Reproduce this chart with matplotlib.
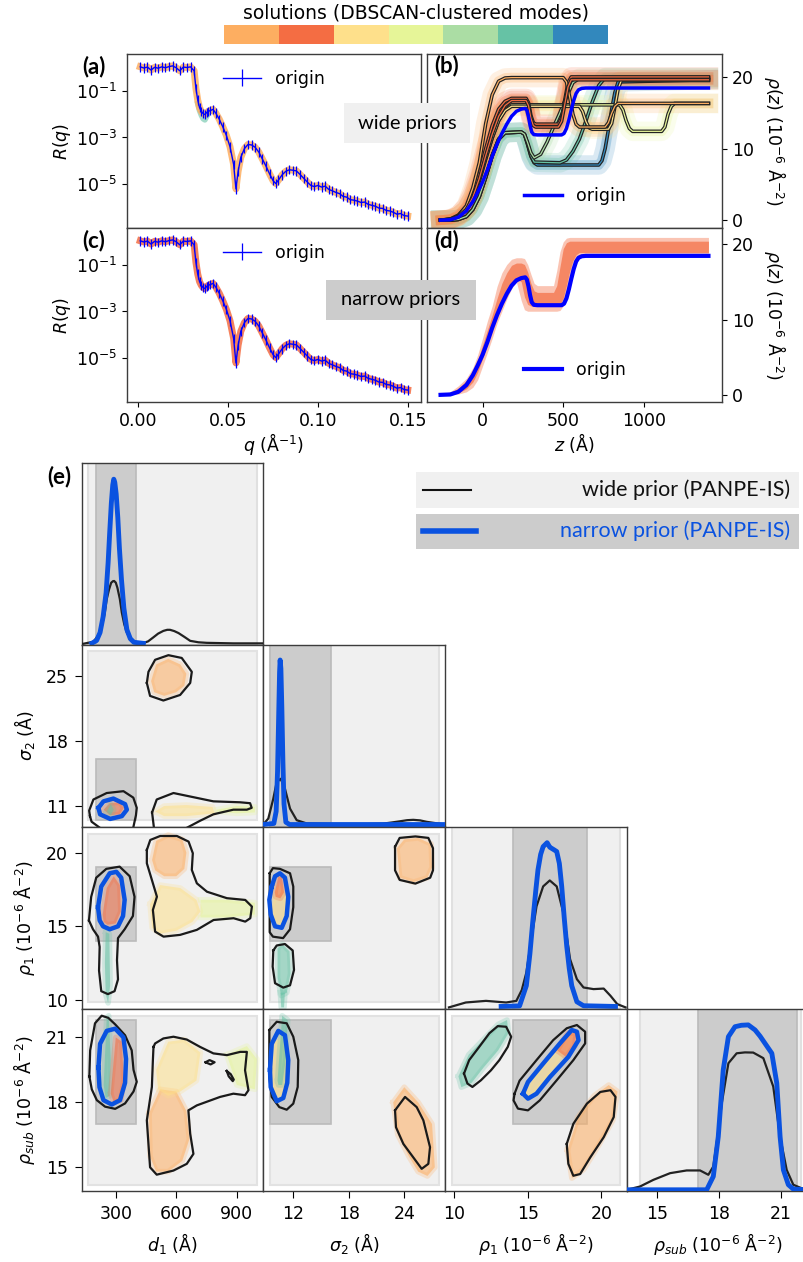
import numpy as np
import matplotlib
matplotlib.use("Agg")
import matplotlib.pyplot as plt
from matplotlib.colors import ListedColormap
from matplotlib.patches import Rectangle
from matplotlib.lines import Line2D
import matplotlib.patheffects as pe

plt.rcParams['font.family'] = ['DejaVu Sans']
plt.rcParams['mathtext.fontset'] = 'dejavusans'

# ---------------- colours ----------------
MODE_COLORS = ['#FDAE61', '#F46D43', '#FEE08B', '#E6F598', '#ABDDA4', '#66C2A5', '#3288BD']
C_OR, C_RED, C_YEL, C_YG, C_GR, C_TEAL, C_BLUE = MODE_COLORS
ORIGIN_BLUE = '#0000ff'
NARROW_BLUE = '#0a52e0'
WIDE_BG = '#f0f0f0'
NARROW_BG = '#cccccc'

# ---------------- reflectivity data ----------------
q = [0.001, 0.003, 0.005, 0.007, 0.009, 0.011, 0.013, 0.015, 0.017, 0.019,
     0.021, 0.023, 0.025, 0.027, 0.029, 0.031, 0.032, 0.033, 0.034, 0.035,
     0.036, 0.037, 0.038, 0.039, 0.040, 0.0415, 0.043, 0.045, 0.047, 0.049,
     0.051, 0.053, 0.0543, 0.0555, 0.057, 0.059, 0.061, 0.063, 0.065, 0.067,
     0.069, 0.071, 0.073, 0.075, 0.0765, 0.078, 0.080, 0.082, 0.084, 0.086,
     0.088, 0.090, 0.092, 0.094, 0.096, 0.098, 0.100, 0.102, 0.104, 0.106,
     0.108, 0.110, 0.112, 0.114, 0.116, 0.118, 0.120, 0.122, 0.124, 0.126,
     0.128, 0.130, 0.132, 0.134, 0.136, 0.138, 0.140, 0.142, 0.144, 0.146,
     0.148, 0.150]
log_R = [0.02, -0.03, 0.01, -0.12, 0.0, -0.04, 0.02, -0.02, 0.03, 0.06,
         -0.02, -0.15, 0.01, -0.01, 0.02, -0.15, -0.9, -1.4, -1.72, -1.88,
         -1.98, -2.02, -1.93, -1.88, -1.85, -1.80, -1.95, -2.22, -2.55, -2.92,
         -3.4, -4.15, -5.2, -4.45, -3.85, -3.48, -3.3, -3.32, -3.42, -3.62,
         -3.92, -4.22, -4.55, -4.85, -4.97, -4.82, -4.6, -4.45, -4.38, -4.4,
         -4.43, -4.58, -4.74, -4.9, -5.05, -5.1, -5.05, -5.12, -5.08, -5.22,
         -5.28, -5.35, -5.4, -5.52, -5.55, -5.66, -5.68, -5.72, -5.78, -5.76,
         -5.86, -5.9, -5.94, -6.02, -6.03, -6.12, -6.14, -6.2, -6.28, -6.25,
         -6.34, -6.36]
ERR_DEC = 0.2
q_teal = [0.033, 0.034, 0.035, 0.036, 0.037, 0.038, 0.039, 0.040]
log_R_teal = [-1.55, -1.85, -2.05, -2.2, -2.25, -2.1, -1.95, -1.88]

# ---------------- SLD profiles ----------------
origin_z = [-260, -200, -150, -100, -60, -30, 0, 30, 60, 90, 120, 150, 180, 210, 240, 265,
            275, 285, 295, 305, 318, 340, 490, 505, 520, 535, 550, 565, 580, 595, 615, 640, 1400]
origin_rho = [0, 0.05, 0.4, 1.3, 2.6, 3.9, 5.3, 7.0, 8.9, 10.6, 12.1, 13.4, 14.5, 15.2, 15.5, 15.6,
              15.3, 14.4, 13.2, 12.3, 11.95, 11.9, 11.9, 12.1, 12.8, 14.0, 15.4, 16.7, 17.7, 18.2, 18.4, 18.45, 18.45]

zA = [-260, -200, -150, -100, -60, -20, 20, 60, 100, 140, 180, 500, 520, 540, 560, 580, 600, 760, 780, 800, 820, 840, 1400]
rA = [0, 0.1, 0.6, 2.0, 4.5, 8.0, 13.5, 17.5, 19.4, 19.85, 19.9, 19.9, 19.3, 17.2, 14.8, 13.4, 13.0, 13.0, 13.6, 14.9, 15.9, 16.3, 16.3]
zB = [-260, -200, -150, -100, -60, -20, 20, 60, 100, 140, 180, 270, 285, 300, 315, 330, 470, 490, 510, 530, 550, 1400]
rB1 = [0, 0.1, 0.5, 1.5, 3.2, 5.8, 9.0, 12.0, 14.5, 16.0, 16.7, 16.7, 16.0, 14.2, 13.2, 13.0, 13.0, 13.8, 16.2, 18.6, 19.6, 19.6]
rB2 = [0, 0.15, 0.7, 1.9, 3.8, 6.6, 10.0, 13.2, 15.5, 16.6, 17.0, 17.0, 16.4, 14.6, 13.6, 13.4, 13.4, 14.3, 16.8, 19.2, 20.0, 20.0]
zC = [-260, -200, -150, -100, -60, -20, 20, 60, 100, 140, 180, 600, 620, 640, 660, 680, 780, 800, 820, 840, 860, 1400]
rC = [0, 0.1, 0.5, 1.4, 3.0, 5.5, 8.6, 11.5, 13.9, 15.3, 15.9, 15.9, 15.2, 13.8, 12.9, 12.7, 12.7, 13.5, 15.8, 18.3, 19.5, 19.5]
zD = [-260, -200, -150, -100, -60, -20, 20, 60, 100, 140, 180, 850, 870, 890, 910, 930, 1110, 1130, 1150, 1170, 1190, 1400]
rD = [0, 0.1, 0.5, 1.4, 3.0, 5.5, 8.6, 11.5, 13.9, 15.4, 16.1, 16.1, 15.4, 13.9, 12.8, 12.4, 12.4, 13.0, 14.8, 15.9, 16.3, 16.3]
zE = [-260, -200, -150, -100, -60, -20, 20, 60, 100, 140, 240, 260, 280, 300, 320, 360, 400, 440, 480, 520, 560, 600, 1400]
rE = [0, 0.0, 0.1, 0.5, 1.5, 3.3, 6.0, 9.0, 11.3, 12.2, 12.3, 12.0, 10.8, 9.4, 8.7, 9.2, 10.9, 13.0, 15.0, 17.2, 19.2, 19.8, 19.8]
zF = [-260, -200, -150, -100, -60, -20, 20, 60, 100, 140, 240, 260, 280, 300, 320, 480, 520, 560, 600, 640, 680, 720, 760, 1400]
rF = [0, 0.0, 0.1, 0.5, 1.5, 3.3, 6.0, 9.0, 11.3, 12.2, 12.3, 12.0, 10.6, 9.0, 8.1, 8.0, 8.4, 9.6, 11.3, 13.8, 16.5, 18.8, 19.9, 19.9]
zG = [-260, -200, -150, -100, -60, -20, 20, 60, 100, 140, 240, 260, 280, 300, 320, 340, 720, 740, 760, 780, 800, 820, 840, 1400]
rG = [0, 0.0, 0.1, 0.5, 1.5, 3.3, 6.0, 9.0, 11.3, 12.2, 12.3, 12.0, 10.5, 8.9, 8.0, 7.7, 7.7, 8.3, 10.0, 12.6, 15.4, 17.8, 19.3, 19.6]

z_env = [-260, -200, -150, -100, -60, -30, 0, 30, 60, 90, 120, 150, 180, 210, 240, 260, 280, 300,
         320, 340, 440, 460, 480, 500, 520, 540, 560, 580, 600, 620, 1400]
env_upper = [0.1, 0.4, 1.2, 2.2, 3.6, 5.3, 7.5, 9.8, 11.8, 14.4, 16.2, 17.3, 18.0, 18.2, 18.2, 18.1, 17.3, 16.0,
             14.8, 14.5, 14.5, 16.5, 19.0, 20.3, 20.8, 20.9, 20.9, 20.9, 20.9, 20.9, 20.9]
env_lower = [0.0, 0.0, 0.1, 0.4, 1.0, 2.0, 3.8, 5.6, 7.5, 9.5, 11.1, 12.7, 14.1, 15.0, 12.5, 11.3, 11.1, 11.1,
             11.1, 11.1, 11.1, 11.1, 11.2, 11.8, 13.2, 15.0, 16.6, 17.8, 18.3, 18.3, 18.3]
core_upper = [0.05, 0.3, 0.9, 1.9, 3.2, 4.6, 6.6, 8.6, 10.6, 12.8, 14.8, 16.2, 17.2, 17.5, 17.5, 17.3, 16.3, 14.8,
              13.8, 13.6, 13.6, 14.5, 17.0, 19.4, 20.2, 20.4, 20.4, 20.4, 20.4, 20.4, 20.4]
core_lower = [0.0, 0.05, 0.25, 0.8, 1.7, 3.0, 4.8, 6.7, 8.6, 10.5, 12.2, 13.6, 14.8, 15.5, 15.0, 13.0, 12.0, 11.8,
              11.8, 11.8, 11.8, 11.8, 12.0, 12.8, 14.5, 16.4, 17.8, 18.6, 18.9, 18.9, 18.9]

# ---------------- corner plot data ----------------
PARAM_LABELS = [r'$d_1$ (Å)', r'$\sigma_2$ (Å)', r'$\rho_1$ (10$^{-6}$ Å$^{-2}$)', r'$\rho_{sub}$ (10$^{-6}$ Å$^{-2}$)']
X_LIMS = [(131, 1032), (8.76, 28.4), (9.39, 21.72), (13.55, 22.34)]
Y_LIMS = [None, (8.76, 28.4), (9.39, 21.72), (13.92, 22.31)]
X_TICKS = [[300, 600, 900], [12, 18, 24], [10, 15, 20], [15, 18, 21]]
Y_TICKS = [None, [11, 18, 25], [10, 15, 20], [15, 18, 21]]
WIDE_PRIOR = [(160, 1000), (9.5, 27.7), (9.85, 21.25), (14.2, 22.0)]
NARROW_PRIOR = [(200, 400), (9.5, 16.1), (14.0, 19.0), (17.0, 21.8)]

# marginals (density normalised to panel height)
d1_b_x = [181, 205, 222, 237, 252, 262, 270, 278, 285, 290, 295, 302, 310, 318, 328, 340, 355, 372, 390, 437]
d1_b_y = [0.004, 0.02, 0.064, 0.15, 0.284, 0.45, 0.62, 0.78, 0.88, 0.912, 0.895, 0.83, 0.7, 0.53, 0.36, 0.2, 0.08, 0.03, 0.01, 0.004]
d1_k_x = [131, 189, 215, 231, 245, 255, 266, 277, 286, 292, 300, 308, 320, 330, 342, 355, 370, 387, 410, 437,
          460, 486, 510, 536, 555, 569, 590, 611, 640, 669, 710, 751, 883, 1030]
d1_k_y = [0.0, 0.013, 0.05, 0.1, 0.17, 0.248, 0.3, 0.339, 0.348, 0.349, 0.34, 0.312, 0.25, 0.174, 0.11, 0.064, 0.03, 0.013, 0.007, 0.006,
          0.015, 0.037, 0.058, 0.073, 0.079, 0.079, 0.072, 0.061, 0.04, 0.018, 0.01, 0.007, 0.004, 0.004]
s2_b_x = [8.76, 9.9, 10.15, 10.3, 10.42, 10.52, 10.58, 10.66, 10.76, 10.88, 11.0, 11.2, 11.6, 28.4]
s2_b_y = [0.007, 0.013, 0.08, 0.3, 0.6, 0.85, 0.917, 0.87, 0.66, 0.35, 0.12, 0.02, 0.007, 0.007]
s2_k_x = [8.76, 9.3, 9.84, 10.21, 10.64, 11.1, 11.65, 12.37, 13.45, 16, 20, 21.7, 22.6, 23.54, 24.3, 24.97, 25.7, 26.42, 27.86, 28.4]
s2_k_y = [0.008, 0.04, 0.15, 0.242, 0.26, 0.205, 0.095, 0.031, 0.013, 0.01, 0.01, 0.012, 0.018, 0.025, 0.031, 0.033, 0.03, 0.022, 0.011, 0.007]
r1_b_x = [13.2, 14.45, 14.91, 15.15, 15.36, 15.55, 15.7, 15.88, 16.05, 16.32, 16.5, 16.62, 16.8, 16.97, 17.15, 17.31,
          17.48, 17.65, 17.82, 17.99, 18.34, 18.79, 20.96]
r1_b_y = [0.009, 0.012, 0.124, 0.3, 0.49, 0.65, 0.765, 0.85, 0.893, 0.915, 0.89, 0.884, 0.875, 0.866, 0.8, 0.673,
          0.5, 0.343, 0.22, 0.124, 0.035, 0.013, 0.009]
r1_k_x = [9.66, 10.8, 12.17, 13.54, 14.23, 14.6, 14.91, 15.25, 15.6, 16.05, 16.5, 16.97, 17.42, 17.88, 18.34, 18.79, 19.47, 20.16, 20.62, 21.08, 21.64]
r1_k_y = [0.004, 0.031, 0.04, 0.031, 0.04, 0.1, 0.196, 0.38, 0.563, 0.673, 0.706, 0.673, 0.527, 0.27, 0.16, 0.114, 0.105, 0.108, 0.068, 0.022, 0.004]
rs_b_x = [13.55, 17.42, 17.74, 17.98, 18.22, 18.47, 18.79, 19.1, 19.43, 19.76, 20.0, 20.24, 20.57, 20.81, 20.97, 21.13, 21.37, 21.61, 22.34]
rs_b_y = [0.0, 0.0, 0.074, 0.294, 0.663, 0.847, 0.902, 0.91, 0.912, 0.884, 0.85, 0.81, 0.755, 0.59, 0.294, 0.11, 0.028, 0.004, 0.0]
rs_k_x = [13.55, 14.19, 14.84, 15.65, 16.45, 17.1, 17.5, 17.74, 17.95, 18.15, 18.47, 18.87, 19.27, 19.67, 20.16, 20.64, 20.97, 21.29, 21.61, 22.1]
rs_k_y = [0.0, 0.018, 0.055, 0.092, 0.107, 0.107, 0.083, 0.129, 0.3, 0.479, 0.7, 0.755, 0.76, 0.759, 0.728, 0.571, 0.294, 0.11, 0.028, 0.004]

# panel (sigma2 vs d1)
k10_a_x = [454, 462, 495, 561, 627, 677, 669, 619, 536, 470, 454]
k10_a_y = [24.3, 25.5, 26.8, 27.3, 27.0, 25.5, 24.3, 23.0, 22.4, 22.9, 24.3]
k10_b_x = [172, 168, 189, 255, 338, 387, 404, 400, 385, 300, 230, 180, 172]
k10_b_y = [9.9, 10.5, 11.7, 12.4, 12.6, 11.9, 10.8, 10.0, 8.5, 8.5, 8.5, 9.3, 9.9]
k10_c_x = [480, 503, 586, 652, 784, 916, 966, 974, 950, 883, 784, 718, 640, 490, 480]
k10_c_y = [10.3, 11.7, 12.4, 12.1, 11.5, 11.4, 11.3, 10.8, 10.6, 10.6, 10.1, 9.4, 8.5, 8.5, 10.3]
b10_x = [214, 239, 288, 346, 355, 330, 272, 222, 214]
b10_y = [10.8, 11.5, 11.8, 11.2, 10.6, 9.9, 9.6, 10.1, 10.8]
c10_or_x = [475, 500, 560, 620, 650, 640, 600, 540, 490, 475]
c10_or_y = [24.5, 26.3, 26.9, 26.3, 25.3, 24.0, 23.3, 22.9, 23.3, 24.5]
c10_red_x = [240, 270, 320, 340, 320, 270, 240]
c10_red_y = [10.6, 11.3, 11.4, 10.8, 10.1, 10.0, 10.6]
c10_teal_x = [255, 275, 290, 275, 255]
c10_teal_y = [10.4, 11.2, 10.6, 10.0, 10.4]
c10_yel_x = [495, 540, 650, 780, 790, 650, 540, 495]
c10_yel_y = [10.4, 11.0, 11.1, 10.9, 10.2, 9.9, 9.9, 10.4]
c10_yg_x = [800, 900, 990, 990, 900, 800]
c10_yg_y = [10.6, 11.0, 10.9, 10.3, 10.2, 10.4]

# panel (rho1 vs d1)
k20_a_x = [167, 178, 203, 253, 319, 369, 393, 385, 344, 311, 306, 311, 294, 261, 228, 217, 220, 212, 187, 167]
k20_a_y = [15.4, 17.0, 18.3, 18.9, 19.05, 18.4, 17.0, 15.7, 14.8, 14.2, 12.7, 11.4, 10.6, 10.4, 10.6, 12.0, 13.6, 14.3, 14.8, 15.4]
b20_x = [212, 228, 270, 303, 327, 344, 336, 311, 270, 237, 220, 212]
b20_y = [16.3, 17.7, 18.6, 18.7, 18.3, 16.8, 15.7, 15.0, 14.8, 15.0, 15.4, 16.3]
k20_b_x = [454, 471, 520, 603, 661, 682, 677, 702, 752, 851, 942, 975, 967, 942, 884, 785, 702, 619, 537, 495, 484, 504, 479, 454, 454]
k20_b_y = [20.18, 20.86, 21.13, 21.13, 20.75, 19.96, 18.83, 17.92, 17.35, 16.91, 16.79, 16.34, 15.55, 15.32, 15.55, 15.43, 14.76, 14.42, 14.3, 14.64, 16.11, 17.01, 18.15, 19.28, 20.18]
c20_red_x = [235, 255, 290, 320, 325, 300, 260, 240, 235]
c20_red_y = [15.8, 17.6, 18.4, 17.8, 16.0, 15.2, 15.1, 15.3, 15.8]
c20_teal_x = [250, 268, 272, 262, 250, 246, 250]
c20_teal_y = [14.6, 14.5, 11.0, 9.8, 10.4, 12.5, 14.6]
c20_or_x = [480, 500, 560, 630, 650, 640, 600, 540, 495, 480]
c20_or_y = [19.5, 20.8, 21.2, 20.9, 20.0, 18.9, 18.4, 18.4, 18.8, 19.5]
c20_yel_x = [470, 520, 620, 700, 720, 680, 600, 520, 480, 470]
c20_yel_y = [16.5, 17.8, 17.6, 16.8, 16.0, 15.3, 14.7, 14.5, 14.9, 16.5]
c20_yg_x = [720, 850, 990, 990, 850, 720]
c20_yg_y = [16.8, 16.8, 16.6, 15.8, 15.6, 15.6]

# panel (rho1 vs sigma2)
k21_a_x = [23.0, 23.5, 25.2, 26.6, 27.1, 27.1, 26.8, 25.2, 23.5, 23.0, 23.0]
k21_a_y = [20.4, 21.0, 21.1, 21.0, 20.3, 18.8, 18.3, 17.9, 18.15, 18.8, 20.4]
k21_b_x = [9.45, 9.8, 10.56, 11.65, 12.0, 12.0, 11.65, 10.9, 9.8, 9.45, 9.45]
k21_b_y = [18.6, 18.95, 18.9, 18.6, 17.7, 16.3, 14.8, 14.2, 14.3, 14.6, 18.6]
b21_x = [9.67, 10.03, 10.56, 11.1, 11.46, 11.29, 10.75, 10.03, 9.56, 9.41, 9.67]
b21_y = [17.7, 18.4, 18.6, 18.3, 17.0, 15.7, 14.9, 15.0, 15.8, 16.8, 17.7]
k21_c_x = [9.84, 10.21, 11.1, 11.94, 12.08, 11.65, 10.92, 10.03, 9.77, 9.84]
k21_c_y = [13.36, 13.7, 13.8, 13.36, 12.04, 11.0, 10.84, 11.14, 12.27, 13.36]
c21_or_x = [23.2, 24, 25.5, 26.9, 27.0, 26.5, 25, 23.5, 23.2]
c21_or_y = [20.3, 20.9, 21.0, 20.6, 19.0, 18.3, 18.0, 18.3, 20.3]
c21_yel_x = [9.7, 10.1, 10.6, 11.1, 11.3, 11.0, 10.5, 10.0, 9.7]
c21_yel_y = [16.3, 17.6, 17.8, 17.2, 16.2, 15.3, 15.1, 15.3, 16.3]
c21_red_x = [10.0, 10.4, 10.8, 11.0, 10.6, 10.1, 10.0]
c21_red_y = [17.3, 18.4, 18.3, 17.3, 16.9, 17.0, 17.3]
c21_teal_x = [10.3, 10.8, 11.6, 11.7, 11.3, 10.7, 10.3, 10.3]
c21_teal_y = [13.5, 13.8, 13.3, 11.8, 10.5, 10.3, 11.5, 13.5]
c21_tail_x = [10.6, 11.1, 11.0, 10.7, 10.6]
c21_tail_y = [10.5, 10.5, 9.5, 9.5, 10.5]

# panel (rho_sub vs d1)
k30_a_x = [169, 173, 197, 230, 263, 297, 346, 379, 388, 404, 388, 346, 297, 247, 206, 181, 169]
k30_a_y = [19.2, 20.4, 21.65, 22.0, 21.9, 21.6, 21.1, 20.4, 19.5, 18.95, 18.5, 17.95, 17.7, 17.8, 18.1, 18.6, 19.2]
b30_x = [214, 222, 255, 297, 338, 351, 346, 321, 280, 239, 219, 214]
b30_y = [19.6, 20.7, 21.3, 21.4, 21.0, 20.0, 18.9, 18.1, 17.9, 18.1, 18.7, 19.6]
k30_b_x = [487, 495, 536, 586, 652, 718, 784, 851, 917, 950, 941, 958, 941, 883, 817, 702, 660, 669, 685, 652, 586, 503, 470, 462, 454, 479, 484, 487]
k30_b_y = [20.56, 20.72, 20.95, 21.03, 20.9, 20.56, 20.26, 20.18, 20.33, 20.33, 19.48, 18.56, 18.33, 18.4, 18.25, 17.86, 17.63, 16.55, 15.62, 15.16, 14.85, 14.66, 15.0, 16.08, 17.17, 18.71, 19.95, 20.56]
k30_i1_x = [745, 765, 790, 770, 745]
k30_i1_y = [19.85, 19.95, 19.85, 19.75, 19.85]
k30_i2_x = [850, 870, 885, 880, 860, 850]
k30_i2_y = [19.45, 19.3, 19.05, 18.98, 19.2, 19.45]
c30_red_x = [275, 300, 330, 340, 325, 290, 275]
c30_red_y = [18.4, 21.0, 20.8, 19.0, 18.1, 18.0, 18.4]
c30_teal_x = [240, 255, 265, 275, 270, 250, 240]
c30_teal_y = [18.8, 21.9, 22.0, 20.0, 18.3, 18.2, 18.8]
c30_or_x = [465, 520, 600, 650, 665, 630, 560, 500, 470, 465]
c30_or_y = [17.5, 18.6, 18.5, 17.6, 16.3, 15.3, 14.8, 14.8, 15.5, 17.5]
c30_yel_x = [500, 560, 640, 720, 700, 620, 560, 510, 500]
c30_yel_y = [19.5, 20.8, 20.9, 20.3, 19.0, 18.5, 18.3, 18.6, 19.5]
c30_yg_x = [850, 950, 1000, 990, 900, 850]
c30_yg_y = [20.2, 20.6, 20.0, 18.6, 18.8, 20.2]

# panel (rho_sub vs sigma2)
k31_a_x = [9.41, 10.21, 11.29, 12.0, 12.54, 12.48, 12.0, 11.29, 10.49, 9.67, 9.41, 9.41]
k31_a_y = [21.34, 21.72, 21.65, 21.03, 19.95, 18.71, 17.94, 17.66, 17.78, 18.25, 19.17, 21.34]
b31_x = [9.48, 9.67, 10.38, 11.1, 11.46, 11.35, 10.92, 10.21, 9.56, 9.48]
b31_y = [19.5, 20.7, 21.3, 21.1, 19.95, 18.9, 18.2, 18.05, 18.7, 19.5]
k31_b_x = [23.0, 24.08, 25.34, 26.06, 26.78, 26.6, 25.88, 24.97, 23.9, 23.1, 23.0]
k31_b_y = [17.63, 18.25, 17.78, 17.17, 15.93, 15.16, 14.93, 15.46, 16.08, 16.85, 17.63]
c31_or_x = [22.8, 24, 25.5, 27.0, 27.3, 26.5, 25.5, 24.5, 23.3, 22.8]
c31_or_y = [18.0, 18.7, 18.0, 17.0, 15.0, 14.6, 14.8, 15.5, 16.5, 18.0]
c31_yel_x = [9.6, 10.0, 10.8, 11.3, 11.2, 10.6, 9.9, 9.6]
c31_yel_y = [19.3, 20.8, 21.0, 20.0, 18.7, 18.2, 18.4, 19.3]
c31_teal_x = [10.3, 10.8, 11.4, 11.2, 10.8, 10.4, 10.3]
c31_teal_y = [19.0, 22.0, 21.8, 20.0, 18.8, 18.8, 19.0]

# panel (rho_sub vs rho1)
k32_a_x = [10.68, 11.03, 11.71, 12.4, 12.97, 13.54, 13.88, 13.65, 13.08, 12.51, 11.83, 11.25, 10.91, 10.68]
k32_a_y = [19.33, 19.95, 20.56, 21.19, 21.52, 21.49, 21.03, 20.56, 19.95, 19.48, 19.02, 18.71, 18.87, 19.33]
k32_b_x = [14.11, 14.45, 15.6, 16.73, 17.65, 18.34, 18.9, 18.9, 18.1, 16.97, 15.82, 15.02, 14.34, 14.04, 14.11]
k32_b_y = [18.4, 19.0, 19.95, 20.87, 21.42, 21.57, 21.26, 20.72, 19.95, 19.02, 18.09, 17.63, 17.71, 18.09, 18.4]
b32_x = [14.68, 15.02, 16.05, 17.19, 17.99, 18.34, 18.45, 17.76, 16.51, 15.6, 15.02, 14.68]
b32_y = [18.4, 18.94, 19.79, 20.72, 21.34, 21.26, 20.87, 20.1, 19.17, 18.4, 18.17, 18.4]
k32_c_x = [17.65, 18.1, 19.02, 19.93, 20.62, 20.96, 20.84, 20.16, 19.25, 18.56, 18.1, 17.76, 17.65]
k32_c_y = [16.08, 17.01, 17.94, 18.48, 18.56, 18.25, 17.32, 16.39, 15.46, 14.69, 14.61, 15.16, 16.08]
c32_teal_x = [10.3, 11.0, 12.0, 13.0, 13.6, 13.7, 13.0, 12.0, 11.2, 10.5, 10.3]
c32_teal_y = [19.2, 20.2, 20.9, 21.6, 21.8, 21.2, 20.4, 19.6, 18.9, 18.7, 19.2]
c32_yel_x = [14.8, 15.5, 16.5, 17.5, 18.2, 17.8, 16.6, 15.5, 14.9, 14.8]
c32_yel_y = [18.4, 19.2, 20.1, 20.9, 21.2, 20.5, 19.4, 18.5, 18.2, 18.4]
c32_red_x = [17.0, 17.7, 18.3, 18.2, 17.6, 17.0]
c32_red_y = [20.4, 21.2, 21.2, 20.6, 20.1, 20.4]
c32_or_x = [17.7, 18.4, 19.5, 20.5, 21.1, 20.8, 19.8, 18.8, 18.0, 17.7]
c32_or_y = [15.8, 17.3, 18.3, 18.8, 18.5, 17.2, 16.0, 14.9, 14.5, 15.8]

# ---------------- figure ----------------
W, H = 804, 1262
fig = plt.figure(figsize=(W / 100, H / 100), dpi=100)


def ax_px(l, t, w, h):
    return fig.add_axes([l / W, 1 - (t + h) / H, w / W, h / H])


def fx(x):
    return x / W


def fy(y):
    return 1 - y / H


def frect(x0, y0, x1, y1, color, z=5):
    fig.add_artist(Rectangle((fx(x0), fy(y1)), (x1 - x0) / W, (y1 - y0) / H,
                             transform=fig.transFigure, facecolor=color, edgecolor='none', zorder=z))


SPINE = '#3c3c3c'


def style_spines(ax):
    for s in ax.spines.values():
        s.set_color(SPINE)
        s.set_linewidth(1.0)


# colorbar
ax_cb = ax_px(224, 25, 384, 19)
ax_cb.imshow(np.arange(len(MODE_COLORS)).reshape(1, -1), cmap=ListedColormap(MODE_COLORS), aspect='auto')
ax_cb.axis('off')
fig.text(fx(416), fy(13), 'solutions (DBSCAN-clustered modes)', ha='center', va='center', fontsize=13.5)

# reflectivity panels
R = 10 ** np.array(log_R)
R_teal = 10 ** np.array(log_R_teal)
yerr = [R - R * 10 ** (-ERR_DEC), R * 10 ** ERR_DEC - R]
ax_a = ax_px(127, 54, 294, 174)
ax_c = ax_px(127, 228, 294, 174)
for ax, band in [(ax_a, C_OR), (ax_c, C_RED)]:
    if ax is ax_a:
        ax.plot(q_teal, R_teal, color=C_TEAL, lw=4, alpha=0.6, zorder=1)
    ax.plot(q, R, color=band, lw=5, alpha=0.85, zorder=2, solid_joinstyle='round')
    ax.errorbar(q, R, yerr=yerr, color=ORIGIN_BLUE, lw=1.0, elinewidth=0.9, capsize=0, label='origin', zorder=3)
    ax.set_yscale('log')
    ax.set_xlim(-0.0064, 0.1574)
    ax.set_ylim(1.35e-7, 3.7)
    ax.set_yticks([1e-1, 1e-3, 1e-5])
    ax.yaxis.set_minor_locator(matplotlib.ticker.NullLocator())
    ax.tick_params(labelsize=12.5)
    ax.set_ylabel(r'$R(q)$', fontsize=12.5, labelpad=2)
    ax.legend(loc='upper center', frameon=False, fontsize=12.5, handlelength=2.2)
    style_spines(ax)
ax_a.set_xticks([])
ax_c.set_xticks([0.0, 0.05, 0.10, 0.15])
ax_c.set_xticklabels(['0.00', '0.05', '0.10', '0.15'])
ax_c.set_xlabel(r'$q$ (Å$^{-1}$)', fontsize=12.5, labelpad=1)

# SLD panels
ax_b = ax_px(427, 54, 295, 174)
ax_d = ax_px(427, 228, 295, 174)
modes_b = [(zG, rG, C_BLUE), (zF, rF, C_TEAL), (zE, rE, C_GR), (zD, rD, C_YG), (zC, rC, C_YEL),
           (zB, rB2, C_RED), (zA, rA, C_OR), (zB, rB1, C_RED)]
for z, r, c in modes_b:
    ax_b.plot(z, r, color=c, lw=14, alpha=0.18, zorder=1, solid_joinstyle='round')
    ax_b.plot(z, r, color=c, lw=7, alpha=0.3, zorder=1, solid_joinstyle='round')
for z, r, c in modes_b:
    ax_b.plot(z, r, color=c, lw=0.9, zorder=4,
              path_effects=[pe.Stroke(linewidth=2.6, foreground='#222222'), pe.Normal()])
ax_b.plot(origin_z, origin_rho, color=ORIGIN_BLUE, lw=2.5, zorder=6, label='origin')

ax_d.fill_between(z_env, env_lower, env_upper, color=C_RED, alpha=0.4, lw=0, zorder=1)
ax_d.fill_between(z_env, core_lower, core_upper, color=C_RED, alpha=0.7, lw=0, zorder=2)
ax_d.plot(origin_z, origin_rho, color=ORIGIN_BLUE, lw=3, zorder=6, label='origin')

for ax, ylim in [(ax_b, (-1.1, 23.2)), (ax_d, (-0.95, 22.15))]:
    ax.set_xlim(-344, 1484)
    ax.set_ylim(*ylim)
    ax.yaxis.tick_right()
    ax.yaxis.set_label_position('right')
    ax.set_yticks([0, 10, 20])
    ax.tick_params(labelsize=12.5)
    ax.set_ylabel(r'$\rho(z)$ (10$^{-6}$ Å$^{-2}$)', fontsize=12.5, rotation=270, va='bottom', labelpad=6)
    ax.legend(loc='lower center', bbox_to_anchor=(0.5, 0.04), frameon=False, fontsize=12.5, handlelength=2.2)
    style_spines(ax)
ax_b.set_xticks([])
ax_d.set_xticks([0, 500, 1000])
ax_d.set_xlabel(r'$z$ (Å)', fontsize=12.5, labelpad=1)

# panel labels
for (x, y, s) in [(94, 67, '(a)'), (94, 241, '(c)'), (447, 66, '(b)'), (447, 241, '(d)'), (59, 477, '(e)')]:
    fig.text(fx(x), fy(y), s, ha='center', va='center', fontsize=16, fontweight='bold',
             family=['Lato', 'DejaVu Sans'], zorder=10)

# prior boxes
frect(344, 103, 470, 143, WIDE_BG, z=8)
fig.text(fx(407), fy(123), 'wide priors', ha='center', va='center', fontsize=14.5,
         family=['Lato', 'DejaVu Sans'], zorder=9)
frect(326, 280, 476, 320, NARROW_BG, z=8)
fig.text(fx(401), fy(300), 'narrow priors', ha='center', va='center', fontsize=14.5,
         family=['Lato', 'DejaVu Sans'], zorder=9)

# ---------------- corner plot ----------------
COL_L = [81.7, 263.3, 445.0, 626.7]
ROW_T = [463.3, 645.0, 827.3, 1009.0]
SZ = 181.7

marginals = {
    0: [(d1_k_x, d1_k_y, 'k'), (d1_b_x, d1_b_y, 'b')],
    1: [(s2_k_x, s2_k_y, 'k'), (s2_b_x, s2_b_y, 'b')],
    2: [(r1_k_x, r1_k_y, 'k'), (r1_b_x, r1_b_y, 'b')],
    3: [(rs_k_x, rs_k_y, 'k'), (rs_b_x, rs_b_y, 'b')],
}
panels = {
    (1, 0): dict(clouds=[(c10_or_x, c10_or_y, C_OR), (c10_yel_x, c10_yel_y, C_YEL), (c10_yg_x, c10_yg_y, C_YG),
                         (c10_red_x, c10_red_y, C_RED), (c10_teal_x, c10_teal_y, C_TEAL)],
                 wide=[(k10_a_x, k10_a_y), (k10_b_x, k10_b_y), (k10_c_x, k10_c_y)],
                 narrow=[(b10_x, b10_y)]),
    (2, 0): dict(clouds=[(c20_or_x, c20_or_y, C_OR), (c20_yel_x, c20_yel_y, C_YEL), (c20_yg_x, c20_yg_y, C_YG),
                         (c20_teal_x, c20_teal_y, C_TEAL), (c20_red_x, c20_red_y, C_RED)],
                 wide=[(k20_a_x, k20_a_y), (k20_b_x, k20_b_y)],
                 narrow=[(b20_x, b20_y)]),
    (2, 1): dict(clouds=[(c21_or_x, c21_or_y, C_OR), (c21_yel_x, c21_yel_y, C_YEL), (c21_red_x, c21_red_y, C_RED),
                         (c21_teal_x, c21_teal_y, C_TEAL), (c21_tail_x, c21_tail_y, C_TEAL)],
                 wide=[(k21_a_x, k21_a_y), (k21_b_x, k21_b_y), (k21_c_x, k21_c_y)],
                 narrow=[(b21_x, b21_y)]),
    (3, 0): dict(clouds=[(c30_or_x, c30_or_y, C_OR), (c30_yel_x, c30_yel_y, C_YEL), (c30_yg_x, c30_yg_y, C_YG),
                         (c30_teal_x, c30_teal_y, C_TEAL), (c30_red_x, c30_red_y, C_RED)],
                 wide=[(k30_a_x, k30_a_y), (k30_b_x, k30_b_y), (k30_i1_x, k30_i1_y), (k30_i2_x, k30_i2_y)],
                 narrow=[(b30_x, b30_y)]),
    (3, 1): dict(clouds=[(c31_or_x, c31_or_y, C_OR), (c31_yel_x, c31_yel_y, C_YEL), (c31_teal_x, c31_teal_y, C_TEAL)],
                 wide=[(k31_a_x, k31_a_y), (k31_b_x, k31_b_y)],
                 narrow=[(b31_x, b31_y)]),
    (3, 2): dict(clouds=[(c32_teal_x, c32_teal_y, C_TEAL), (c32_or_x, c32_or_y, C_OR), (c32_yel_x, c32_yel_y, C_YEL),
                         (c32_red_x, c32_red_y, C_RED)],
                 wide=[(k32_a_x, k32_a_y), (k32_b_x, k32_b_y), (k32_c_x, k32_c_y)],
                 narrow=[(b32_x, b32_y)]),
}

for i in range(4):
    for j in range(i + 1):
        ax = ax_px(COL_L[j], ROW_T[i], SZ, SZ)
        style_spines(ax)
        ax.set_xlim(*X_LIMS[j])
        if i == j:
            ax.set_ylim(-0.005, 1.0)
            ax.axvspan(*WIDE_PRIOR[j], facecolor=WIDE_BG, edgecolor='#e0e0e0', lw=1.5, zorder=0)
            ax.axvspan(*NARROW_PRIOR[j], facecolor=NARROW_BG, edgecolor='#bbbbbb', lw=1.2, zorder=0)
            for xs, ys, kind in marginals[j]:
                if kind == 'k':
                    ax.plot(xs, ys, color='#222222', lw=1.6, zorder=3)
                else:
                    ax.plot(xs, ys, color=NARROW_BLUE, lw=3.5, zorder=4)
            ax.set_yticks([])
        else:
            ax.set_ylim(*Y_LIMS[i])
            wx, wy = WIDE_PRIOR[j], WIDE_PRIOR[i]
            nx, ny = NARROW_PRIOR[j], NARROW_PRIOR[i]
            ax.add_patch(Rectangle((wx[0], wy[0]), wx[1] - wx[0], wy[1] - wy[0], facecolor=WIDE_BG,
                                   edgecolor='#e2e2e2', lw=1.5, zorder=0))
            ax.add_patch(Rectangle((nx[0], ny[0]), nx[1] - nx[0], ny[1] - ny[0], facecolor=NARROW_BG,
                                   edgecolor='#bbbbbb', lw=1.2, zorder=1))
            p = panels[(i, j)]
            for xs, ys, c in p['clouds']:
                ax.fill(xs, ys, color=c, alpha=0.55, lw=0, zorder=2)
                ax.plot(xs, ys, color=c, lw=4, alpha=0.25, zorder=2)
            for xs, ys in p['wide']:
                ax.plot(xs, ys, color='#1a1a1a', lw=1.6, zorder=4)
            for xs, ys in p['narrow']:
                ax.plot(xs, ys, color=NARROW_BLUE, lw=3.2, zorder=5)
            if j == 0:
                ax.set_yticks(Y_TICKS[i])
                ax.set_ylabel(PARAM_LABELS[i], fontsize=12.5, labelpad=6)
            else:
                ax.set_yticks([])
        if i == 3:
            ax.set_xticks(X_TICKS[j])
            ax.set_xlabel(PARAM_LABELS[j], fontsize=12.5, labelpad=6)
        else:
            ax.set_xticks([])
        ax.tick_params(labelsize=12.5, length=5, pad=5)

# corner legend
frect(416, 472, 799, 508, WIDE_BG, z=8)
frect(416, 514, 799, 549, NARROW_BG, z=8)
fig.add_artist(Line2D([fx(423), fx(471)], [fy(490), fy(490)], transform=fig.transFigure, color='#111111', lw=1.5, zorder=9))
fig.add_artist(Line2D([fx(423), fx(476)], [fy(531), fy(531)], transform=fig.transFigure, color=NARROW_BLUE, lw=4, zorder=9))
fig.text(fx(790), fy(490), 'wide prior (PANPE-IS)', ha='right', va='center', fontsize=15.5,
         family=['Lato', 'DejaVu Sans'], color='#111111', zorder=10)
fig.text(fx(790), fy(531), 'narrow prior (PANPE-IS)', ha='right', va='center', fontsize=15.5,
         family=['Lato', 'DejaVu Sans'], color=NARROW_BLUE, zorder=10)

fig.savefig('out.png', dpi=100)
